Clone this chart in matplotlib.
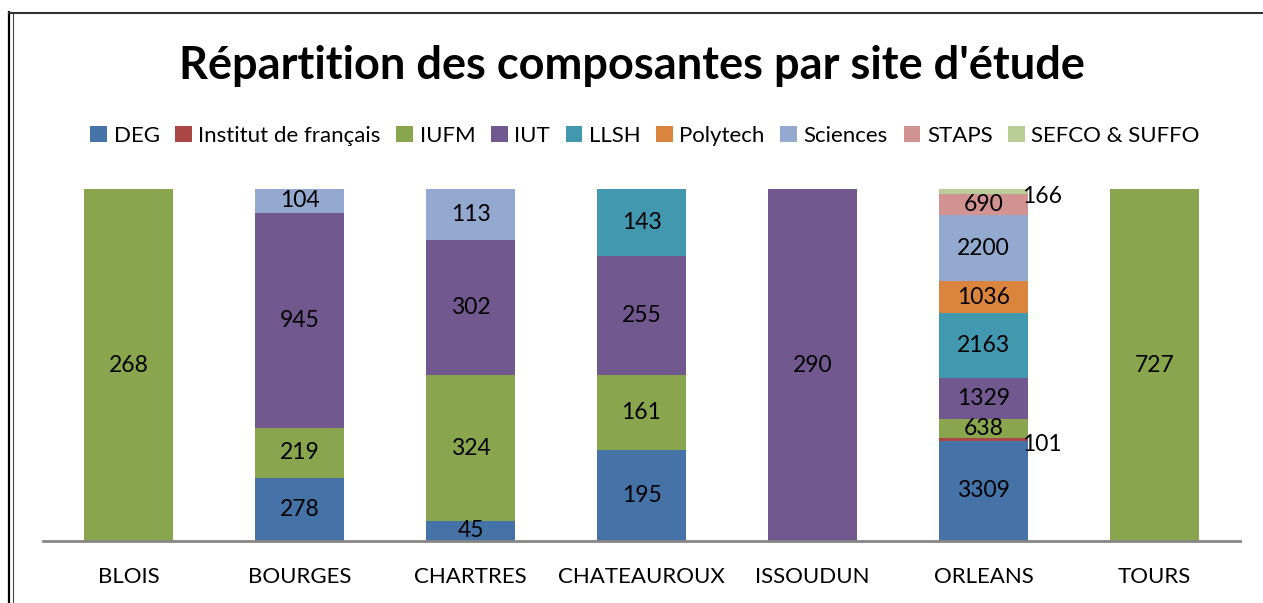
import matplotlib.pyplot as plt
from matplotlib.lines import Line2D
import numpy as np

plt.rcParams['font.family'] = ['Lato', 'DejaVu Sans']

sites = ["BLOIS", "BOURGES", "CHARTRES", "CHATEAUROUX", "ISSOUDUN", "ORLEANS", "TOURS"]

composantes = ["DEG", "Institut de français", "IUFM", "IUT", "LLSH",
               "Polytech", "Sciences", "STAPS", "SEFCO & SUFFO"]
couleurs = ["#4572A7", "#AA4643", "#89A54E", "#71588F", "#4198AF",
            "#DB843D", "#93A9CF", "#D19392", "#B9CD96"]

# effectifs par composante, un chiffre par site (0 = absent)
deg      = [0, 278, 45, 195, 0, 3309, 0]
institut = [0, 0, 0, 0, 0, 101, 0]
iufm     = [268, 219, 324, 161, 0, 638, 727]
iut      = [0, 945, 302, 255, 290, 1329, 0]
llsh     = [0, 0, 0, 143, 0, 2163, 0]
polytech = [0, 0, 0, 0, 0, 1036, 0]
sciences = [0, 104, 113, 0, 0, 2200, 0]
staps    = [0, 0, 0, 0, 0, 690, 0]
sefco    = [0, 0, 0, 0, 0, 166, 0]

series = [deg, institut, iufm, iut, llsh, polytech, sciences, staps, sefco]

data = np.array(series, dtype=float)
totals = data.sum(axis=0)
pct = data / totals * 100

fig = plt.figure(figsize=(12.63, 6.03), dpi=100)
ax = fig.add_axes([43 / 1263, 1 - 541 / 603, (1240 - 43) / 1263, (541 - 189) / 603])

x = np.arange(len(sites))
bottom = np.zeros(len(sites))
for k, name in enumerate(composantes):
    ax.bar(x, pct[k], 0.515, bottom=bottom, color=couleurs[k], label=name, zorder=2)
    for i in range(len(sites)):
        v = data[k, i]
        if v == 0:
            continue
        yc = bottom[i] + pct[k, i] / 2
        dx, dy = 0, 0
        if name == "SEFCO & SUFFO":
            dx, dy = 0.34, -1.5
        elif name == "Institut de français":
            dx, dy = 0.34, -1.5
        ax.text(x[i] + dx, yc + dy, "%d" % v, ha='center', va='center',
                fontsize=16.5, color='black', zorder=3)
    bottom += pct[k]

ax.set_xlim(-0.5, len(sites) - 0.5)
ax.set_ylim(0, 100)
ax.set_yticks([])
ax.set_xticks(x)
ax.set_xticklabels(sites, fontsize=16)
ax.tick_params(axis='x', length=0, pad=19)
for s in ['top', 'right', 'left']:
    ax.spines[s].set_visible(False)
ax.spines['bottom'].set_color('#868686')
ax.spines['bottom'].set_linewidth(2)
ax.spines['bottom'].set_zorder(4)

fig.text(0.5, 1 - 66 / 603, "Répartition des composantes par site d'étude",
         ha='center', va='center', fontsize=32.5, fontweight='bold')

fig.legend(loc='center', bbox_to_anchor=(645 / 1263, 1 - 136 / 603), ncol=9, frameon=False,
           fontsize=16, handlelength=0.75, handleheight=0.75, handletextpad=0.3,
           columnspacing=0.7, borderaxespad=0)

# cadre du graphique
W, H = 1263, 603
fig.add_artist(Line2D([9 / W, 9 / W], [0, 1 - 12 / H], color='black', lw=1.6, transform=fig.transFigure))
fig.add_artist(Line2D([13 / W, 13 / W], [0, 1 - 14 / H], color='#444444', lw=0.8, transform=fig.transFigure))
fig.add_artist(Line2D([9 / W, 1], [1 - 12.5 / H, 1 - 12.5 / H], color='#333333', lw=1.5, transform=fig.transFigure))

fig.savefig("out.png", dpi=100)
